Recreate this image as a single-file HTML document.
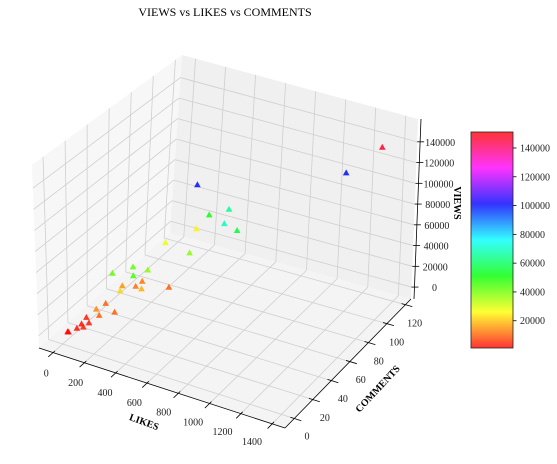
<!DOCTYPE html>
<html><head><meta charset="utf-8"><style>
html,body{margin:0;padding:0;background:#fff;}
svg{display:block;font-family:"Liberation Serif",serif;}
</style></head><body>
<svg id="chart" width="557" height="464" viewBox="0 0 557 464" xmlns="http://www.w3.org/2000/svg">
<text x="225" y="16" text-anchor="middle" font-size="12">VIEWS vs LIKES vs COMMENTS</text>
<g id="panes"></g><g id="grid"></g><g id="axes"></g><g id="marks"></g><g id="cbar"></g>
</svg>
<script>
const likes = [1366,1083,423,524,383,595,617,267,199,414,159,228,286,295,137,189,196,259,184,344,117,119,144,202,58,97,61,60,95,35,29];
const comments = [113,124,73,92,95,74,85,102,79,68,26,37,27,42,42,48,54,42,31,58,27,16,15,22,16,12,10,5,6,0,0];
const views = [148000,100000,100000,65000,50000,70000,55000,25000,28000,38000,42000,42000,45000,38000,15000,12000,12000,18000,22000,10000,10000,14000,10000,10000,3000,3000,2000,2000,4000,1500,1500];
const likeTicks = [0,200,400,600,800,1000,1200,1400];
const commentTicks = [0,20,40,60,80,100,120];
const viewTicks = [0,20000,40000,60000,80000,100000,120000,140000];
const cbarTicks = [20000,40000,60000,80000,100000,120000,140000];

const NS="http://www.w3.org/2000/svg";
const Lmin=-90,Lmax=1482,Cmin=-10,Cmax=126,Vmin=-11500,Vmax=162000;
const cmin=1060,cmax=151100;
const F={a:[39,348],b:[285,428],c:[411,299],d:[170,233]};
const Tp={a:[32,165],b:[292,240],c:[418,119],d:[182,55]};
function bil(Q,u,w){
  return [(1-u)*(1-w)*Q.a[0]+u*(1-w)*Q.b[0]+u*w*Q.c[0]+(1-u)*w*Q.d[0],
          (1-u)*(1-w)*Q.a[1]+u*(1-w)*Q.b[1]+u*w*Q.c[1]+(1-u)*w*Q.d[1]];
}
function T(l,c,v){
  const u=(l-Lmin)/(Lmax-Lmin),w=(c-Cmin)/(Cmax-Cmin),s=(v-Vmin)/(Vmax-Vmin);
  const p=bil(F,u,w),q=bil(Tp,u,w);
  return [p[0]+(q[0]-p[0])*s,p[1]+(q[1]-p[1])*s];
}
const SX=1.0714;
const O=[58.8,331.8],A=[0.1463,0.0509],B=[0.831,-0.890],Cv=[0.0000288,-0.001037];
function P(l,c,v){return [(O[0]+l*A[0]+c*B[0]+v*Cv[0])*SX, O[1]+l*A[1]+c*B[1]+v*Cv[1]];}
function el(tag,attrs,parent){const e=document.createElementNS(NS,tag);for(const k in attrs)e.setAttribute(k,attrs[k]);parent.appendChild(e);return e;}
function line(p,q,stroke,w,parent){return el('line',{x1:p[0],y1:p[1],x2:q[0],y2:q[1],stroke:stroke,'stroke-width':w},parent);}
function poly(pts){return pts.map(p=>p[0].toFixed(1)+','+p[1].toFixed(1)).join(' ');}
function col(val){const t=Math.max(0,Math.min(1,(val-cmin)/(cmax-cmin)));return 'hsl('+(t*360).toFixed(1)+',100%,50%)';}

const panes=document.getElementById('panes');
let pg=el('polygon',{points:poly([T(Lmin,Cmin,Vmin),T(Lmin,Cmax,Vmin),T(Lmin,Cmax,Vmax),T(Lmin,Cmin,Vmax)]),fill:'#f7f7f7'},panes);

pg=el('polygon',{points:poly([T(Lmin,Cmax,Vmin),T(Lmax,Cmax,Vmin),T(Lmax,Cmax,Vmax),T(Lmin,Cmax,Vmax)]),fill:'#f0f0f0'},panes);

pg=el('polygon',{points:poly([T(Lmin,Cmin,Vmin),T(Lmax,Cmin,Vmin),T(Lmax,Cmax,Vmin),T(Lmin,Cmax,Vmin)]),fill:'#f4f4f4'},panes);


const grid=document.getElementById('grid');
const gc='#cfcfcf';
likeTicks.forEach(l=>{
  let g=line(T(l,Cmin,Vmin),T(l,Cmax,Vmin),gc,0.8,grid);
  g=line(T(l,Cmax,Vmin),T(l,Cmax,Vmax),gc,0.8,grid);
});
commentTicks.forEach(c=>{
  let g=line(T(Lmin,c,Vmin),T(Lmax,c,Vmin),gc,0.8,grid);
  g=line(T(Lmin,c,Vmin),T(Lmin,c,Vmax),gc,0.8,grid);
});
viewTicks.forEach(v=>{
  let g=line(T(Lmin,Cmax,v),T(Lmax,Cmax,v),gc,0.8,grid);
  g=line(T(Lmin,Cmin,v),T(Lmin,Cmax,v),gc,0.8,grid);
});

const axes=document.getElementById('axes');
function txt(x,y,s,attrs,parent){const t=el('text',Object.assign({x:x,y:y},attrs),parent);t.textContent=s;return t;}
let ax=line(T(Lmin,Cmin,Vmin),T(Lmax,Cmin,Vmin),'#000',0.8,axes);

likeTicks.forEach(l=>{
  const p=T(l,Cmin,Vmin);
  let tk=line(T(l,Cmin+2,Vmin),T(l,Cmin-5,Vmin),'#000',0.8,axes);
  const t=(l-Lmin)/(Lmax-Lmin);
  let lb=txt(p[0]-6-15*t,p[1]+24-3*t,String(l),{'font-size':10,'text-anchor':'middle',fill:'#222'},axes);
  
});
let at=txt(0,0,'LIKES',{'font-size':10,'font-weight':'bold','text-anchor':'middle',transform:'translate(143,425) rotate(20)'},axes);

ax=line(T(Lmax,Cmin,Vmin),T(Lmax,Cmax,Vmin),'#000',0.8,axes);

commentTicks.forEach(c=>{
  const p=T(Lmax,c,Vmin);
  let tk=line(T(Lmax-25,c,Vmin),T(Lmax+45,c,Vmin),'#000',0.8,axes);
  const t=(c-Cmin)/(Cmax-Cmin);
  let lb=txt(p[0]+13-4*t,p[1]+21+t,String(c),{'font-size':10,'text-anchor':'middle',fill:'#222'},axes);
  
});
at=txt(0,0,'COMMENTS',{'font-size':10,'font-weight':'bold','text-anchor':'middle',transform:'translate(380,391) rotate(-47)'},axes);

function PZ(v){const p=T(Lmax,Cmax,v);return [p[0]+3,p[1]];}
ax=line(PZ(Vmin),PZ(Vmax),'#000',0.8,axes);

viewTicks.forEach(v=>{
  const p=PZ(v);
  let tk=line([p[0]-3,p[1]],[p[0]+4,p[1]],'#000',0.8,axes);
  let lb=txt(p[0]+20,p[1]+4,String(v),{'font-size':10,'text-anchor':'middle',fill:'#222'},axes);
  
});
at=txt(0,0,'VIEWS',{'font-size':10,'font-weight':'bold','text-anchor':'middle',transform:'translate(454,203) rotate(90)'},axes);


const marks=document.getElementById('marks');
likes.forEach((_,i)=>{
  const p=P(likes[i],comments[i],views[i]);
  const m=el('polygon',{points:poly([[p[0],p[1]-3.5],[p[0]+3.3,p[1]+2.5],[p[0]-3.3,p[1]+2.5]]),fill:col(views[i]),'fill-opacity':0.85},marks);
  
  
});

const cb=document.getElementById('cbar');
const cx=471,cw=42,cy0=132,cy1=348;
const defs=el('defs',{},cb);
const lg=el('linearGradient',{id:'cg',x1:0,y1:1,x2:0,y2:0},defs);
for(let k=0;k<=12;k++){el('stop',{offset:k/12,'stop-color':'hsl('+(k*30)+',100%,50%)','stop-opacity':0.8},lg);}
const r=el('rect',{x:cx,y:cy0,width:cw,height:cy1-cy0,fill:'url(#cg)',stroke:'#222','stroke-width':0.8},cb);

function cyOf(v){return cy1-(v-cmin)/(cmax-cmin)*(cy1-cy0);}
cbarTicks.forEach(v=>{
  const y=cyOf(v);
  let tk=line([cx+cw,y],[cx+cw+3.5,y],'#000',0.8,cb);
  let lb=txt(cx+cw+7,y+3.5,String(v),{'font-size':10,fill:'#222'},cb);
  
});
</script>
</body></html>
